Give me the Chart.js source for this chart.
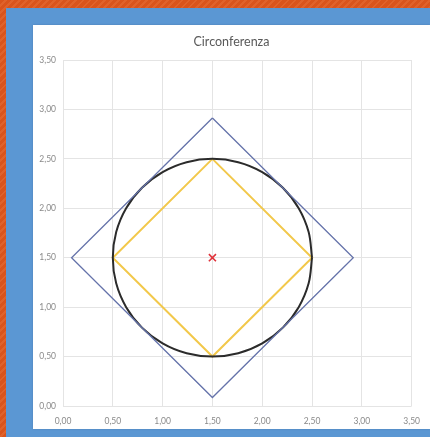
<!DOCTYPE html>
<html>
<head>
<meta charset="utf-8">
<script src="https://cdn.jsdelivr.net/npm/chart.js@4"></script>
<style>
  html, body { margin: 0; padding: 0; }
  body {
    width: 430px; height: 437px; position: relative; overflow: hidden;
    background: repeating-linear-gradient(135deg, #d9541c 0px, #d9541c 3px, #e0622a 3px, #e0622a 5px);
  }
  #frame { position: absolute; left: 6px; top: 8px; right: 0; bottom: 0; background: #5b97d3; }
  #panel {
    position: absolute; left: 33px; top: 25px; width: 397px; height: 404px;
    background: #fff; box-shadow: 0 0 2px rgba(0,0,0,.15);
  }
  #cv { position: absolute; left: 0; top: 0; }
  #title {
    position: absolute; left: 0; top: 9px; width: 397px; text-align: center;
    font: 12.5px Lato, sans-serif; color: #595959;
  }
</style>
</head>
<body>
<div id="frame"></div>
<div id="panel">
  <canvas id="cv" width="397" height="404"></canvas>
  <div id="title">Circonferenza</div>
</div>
<script>
// axis ticks (0 .. 3.5, step 0.5)
const tickVals = [0, 0.5, 1, 1.5, 2, 2.5, 3, 3.5];
const tickLabels = ['0,00', '0,50', '1,00', '1,50', '2,00', '2,50', '3,00', '3,50'];

// circle, centre (1.5, 1.5), r = 1, sampled every 15 degrees
const circX = [2.5, 2.466, 2.366, 2.207, 2.0, 1.759, 1.5, 1.241, 1.0, 0.793, 0.634, 0.534,
               0.5, 0.534, 0.634, 0.793, 1.0, 1.241, 1.5, 1.759, 2.0, 2.207, 2.366, 2.466, 2.5];
const circY = [1.5, 1.759, 2.0, 2.207, 2.366, 2.466, 2.5, 2.466, 2.366, 2.207, 2.0, 1.759,
               1.5, 1.241, 1.0, 0.793, 0.634, 0.534, 0.5, 0.534, 0.634, 0.793, 1.0, 1.241, 1.5];

// inscribed square
const inX = [1.5, 2.5, 1.5, 0.5, 1.5];
const inY = [2.5, 1.5, 0.5, 1.5, 2.5];

// circumscribed square
const outX = [1.5, 2.914, 1.5, 0.086, 1.5];
const outY = [2.914, 1.5, 0.086, 1.5, 2.914];

// centre
const centreX = [1.5];
const centreY = [1.5];

const pts = (xs, ys) => xs.map((x, i) => ({ x, y: ys[i] }));
const fmt = v => { const i = tickVals.indexOf(+v.toFixed(2)); return i >= 0 ? tickLabels[i] : ''; };

const axis = (pos) => ({
  type: 'linear', position: pos, min: 0, max: 3.5,
  afterBuildTicks: a => { a.ticks = tickVals.map(v => ({ value: v })); },
  grid: { color: '#e4e4e4', lineWidth: 1, drawTicks: false },
  border: { display: false },
  ticks: {
    callback: fmt, color: '#8a8a8a', padding: pos === 'left' ? 7 : 10,
    font: { family: 'Lato', size: 8.5 }, maxRotation: 0, autoSkip: false
  },
  afterFit: s => { if (pos === 'left') s.width = 30; else s.height = 23; }
});

new Chart(document.getElementById('cv'), {
  type: 'scatter',
  data: {
    datasets: [
      { data: pts(outX, outY), showLine: true, borderColor: '#6573aa', borderWidth: 1.3, pointRadius: 0 },
      { data: pts(circX, circY), showLine: true, borderColor: '#2b2b2b', borderWidth: 2, pointRadius: 0, tension: 0.35 },
      { data: pts(inX, inY), showLine: true, borderColor: '#f2c84b', borderWidth: 2, pointRadius: 0 },
      { data: pts(centreX, centreY), pointStyle: 'crossRot', pointRadius: 5, borderColor: '#e0343c', borderWidth: 1.6 }
    ]
  },
  options: {
    responsive: false, animation: false,
    layout: { padding: { left: 0, right: 17, top: 35, bottom: 0 } },
    plugins: { legend: { display: false }, tooltip: { enabled: false } },
    scales: { x: axis('bottom'), y: axis('left') }
  }
});
</script>
</body>
</html>
